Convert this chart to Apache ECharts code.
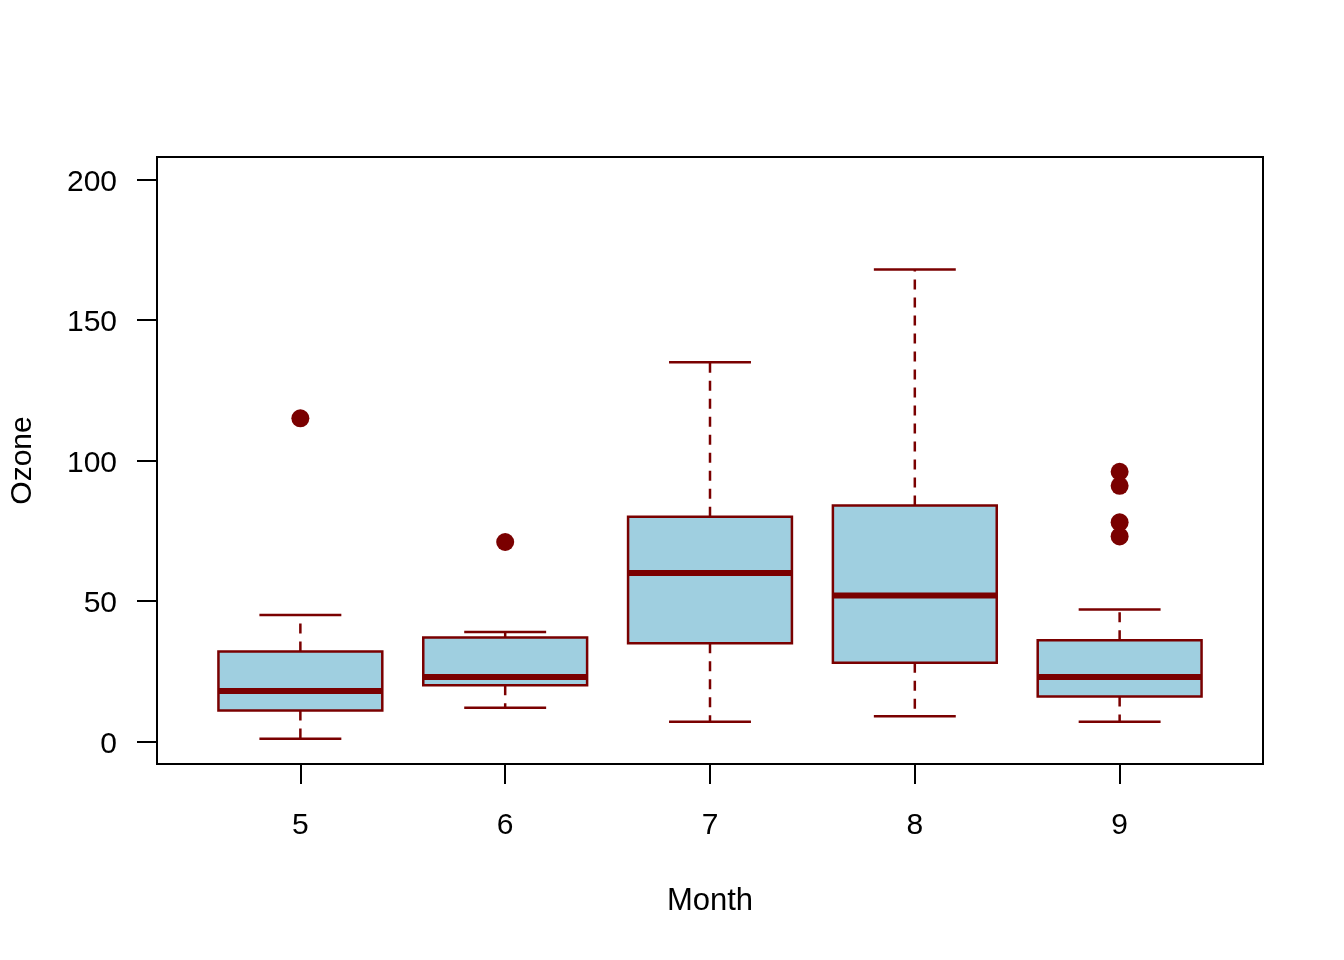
<!DOCTYPE html>
<html>
<head>
<meta charset="utf-8">
<script src="https://cdn.jsdelivr.net/npm/echarts@6/dist/echarts.min.js"></script>
<style>html,body{margin:0;padding:0;background:#fff;}#c{width:1344px;height:960px;}</style>
</head>
<body>
<div id="c"></div>
<script>
// Months (category labels)
var months = [5, 6, 7, 8, 9];
// Box stats per month: [min whisker, Q1, median, Q3, max whisker]
var lowWhisker = [1, 12, 7, 9, 7];
var q1Values = [11, 20, 35, 28, 16];
var medians = [18, 23, 60, 52, 23];
var q3Values = [32, 37, 80, 84, 36];
var highWhisker = [45, 39, 135, 168, 47];
// Outliers: [month, value]
var outliers = [[5, 115], [6, 71], [9, 73], [9, 78], [9, 91], [9, 96]];
var yTicks = [0, 50, 100, 150, 200];

var fill = '#9fcfe0';
var dark = '#7a0000';
var font = 'Liberation Sans, Arial, sans-serif';

var boxData = months.map(function (m, i) {
  return [i + 1, lowWhisker[i], q1Values[i], medians[i], q3Values[i], highWhisker[i]];
});
var outlierData = outliers.map(function (o) {
  return [months.indexOf(o[0]) + 1, o[1]];
});

function renderItem(params, api) {
  var x = api.value(0);
  var lo = api.value(1), q1 = api.value(2), md = api.value(3), q3 = api.value(4), hi = api.value(5);
  var halfBox = 0.4, halfStaple = 0.2;
  var pL = api.coord([x - halfBox, q3]);
  var pR = api.coord([x + halfBox, q1]);
  var c = function (xx, yy) { return api.coord([xx, yy]); };
  var dashed = { stroke: dark, lineWidth: 2.5, lineDash: [10, 8] };
  var solid = { stroke: dark, lineWidth: 2.5 };
  var children = [];
  var a, b;
  a = c(x, q3); b = c(x, hi);
  children.push({ type: 'line', shape: { x1: a[0], y1: a[1], x2: b[0], y2: b[1] }, style: dashed });
  a = c(x, q1); b = c(x, lo);
  children.push({ type: 'line', shape: { x1: a[0], y1: a[1], x2: b[0], y2: b[1] }, style: dashed });
  a = c(x - halfStaple, hi); b = c(x + halfStaple, hi);
  children.push({ type: 'line', shape: { x1: a[0], y1: a[1], x2: b[0], y2: b[1] }, style: solid });
  a = c(x - halfStaple, lo); b = c(x + halfStaple, lo);
  children.push({ type: 'line', shape: { x1: a[0], y1: a[1], x2: b[0], y2: b[1] }, style: solid });
  children.push({ type: 'rect', shape: { x: pL[0], y: pL[1], width: pR[0] - pL[0], height: pR[1] - pL[1] },
    style: { fill: fill, stroke: dark, lineWidth: 2.5 } });
  a = c(x - halfBox, md); b = c(x + halfBox, md);
  children.push({ type: 'line', shape: { x1: a[0], y1: a[1], x2: b[0], y2: b[1] }, style: { stroke: dark, lineWidth: 6 } });
  return { type: 'group', children: children };
}

var chart = echarts.init(document.getElementById('c'), null, { renderer: 'canvas' });
chart.setOption({
  backgroundColor: '#fff',
  animation: false,
  grid: { left: 157, right: 81, top: 157, bottom: 196, show: true, borderColor: '#000', borderWidth: 2, backgroundColor: 'transparent' },
  xAxis: {
    type: 'value', min: 0.3, max: 5.7,
    name: 'Month', nameLocation: 'middle', nameGap: 122,
    nameTextStyle: { fontFamily: font, fontSize: 31, color: '#000' },
    axisLine: { show: false, onZero: false },
    splitLine: { show: false },
    axisTick: { show: true, inside: false, length: 20, lineStyle: { color: '#000', width: 2 }, customValues: [1, 2, 3, 4, 5] },
    axisLabel: { show: true, margin: 47, fontFamily: font, fontSize: 30, color: '#000', customValues: [1, 2, 3, 4, 5],
      formatter: function (v) { return String(months[Math.round(v) - 1]); } }
  },
  yAxis: {
    type: 'value', min: -8, max: 208,
    name: 'Ozone', nameLocation: 'middle', nameGap: 119, nameRotate: 90,
    nameTextStyle: { fontFamily: font, fontSize: 30, color: '#000' },
    axisLine: { show: false, onZero: false },
    splitLine: { show: false },
    axisTick: { show: true, inside: false, length: 20, lineStyle: { color: '#000', width: 2 }, customValues: yTicks },
    axisLabel: { show: true, margin: 40, fontFamily: font, fontSize: 30, color: '#000', customValues: yTicks,
      formatter: function (v) { return '{a|' + v + '}'; },
      rich: { a: { fontFamily: font, fontSize: 30, color: '#000', padding: [6, 0, 0, 0] } } }
  },
  series: [
    { type: 'custom', renderItem: renderItem, data: boxData, encode: { x: 0, y: [1, 2, 3, 4, 5] }, clip: false, z: 2 },
    { type: 'scatter', data: outlierData, symbol: 'circle', symbolSize: 18, itemStyle: { color: dark, opacity: 1 }, z: 3 }
  ]
});
</script>
</body>
</html>
